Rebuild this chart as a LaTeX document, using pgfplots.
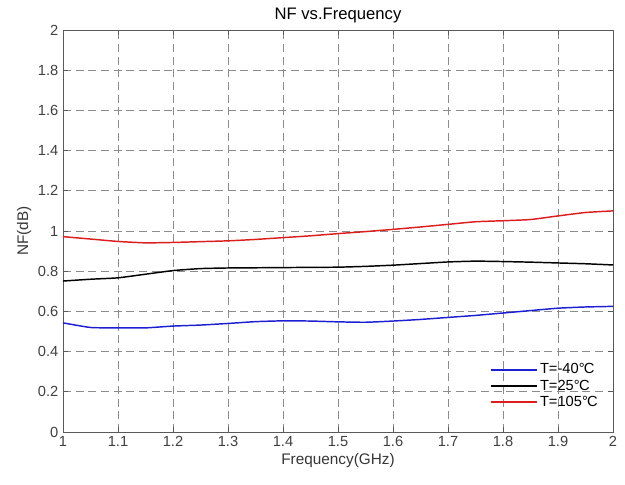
\documentclass[border=0pt]{standalone}
\usepackage{pgfplots}
\pgfplotsset{compat=1.18}
\usepackage{fontspec}
\setmainfont{Liberation Sans}
\definecolor{ax}{RGB}{90,90,90}
\definecolor{gr}{RGB}{140,140,140}
\definecolor{mblue}{RGB}{30,30,210}
\definecolor{mred}{RGB}{220,30,30}
\begin{document}
\begin{tikzpicture}
\begin{axis}[
  scale only axis,
  width=412.5pt, height=301.5pt,
  xmin=1, xmax=2, ymin=0, ymax=2,
  xtick={1,1.1,...,2.01},
  xticklabels={1,1.1,1.2,1.3,1.4,1.5,1.6,1.7,1.8,1.9,2},
  ytick={0,0.2,...,2.01},
  yticklabels={0,0.2,0.4,0.6,0.8,1,1.2,1.4,1.6,1.8,2},
  /pgf/number format/assume math mode=true,
  tick label style={font=\fontsize{11}{12}\selectfont, text=ax!70!black},
  label style={font=\fontsize{11.5}{13}\selectfont, text=ax!60!black},
  title style={font=\fontsize{12.5}{14}\selectfont, text=black, yshift=-4pt},
  title={NF vs.Frequency},
  xlabel={Frequency(GHz)},
  ylabel={NF(dB)},
  xlabel style={yshift=2pt},
  ylabel style={yshift=-2pt},
  axis line style={ax, line width=0.6pt},
  tick style={ax, line width=0.5pt},
  tick align=inside,
  major tick length=4pt,
  grid=major,
  major grid style={gr, dash pattern=on 6pt off 3.5pt, line width=0.5pt},
  legend style={draw=none, fill=none, at={(0.985,0.045)}, anchor=south east,
    font=\fontsize{11}{12}\selectfont, row sep=-1pt},
  legend cell align=left,
  clip=false,
]
\addlegendimage{mblue, line width=1.2pt, legend image code/.code={\draw[mblue, line width=1.2pt] (0pt,0pt) -- (34pt,0pt);}}
\addlegendentry{T=-40°\kern-0.5ptC}
\addlegendimage{black, line width=1.2pt, legend image code/.code={\draw[black, line width=1.2pt] (0pt,0pt) -- (34pt,0pt);}}
\addlegendentry{T=25°\kern-0.5ptC}
\addlegendimage{mred, line width=1.2pt, legend image code/.code={\draw[mred, line width=1.2pt] (0pt,0pt) -- (34pt,0pt);}}
\addlegendentry{T=105°\kern-0.5ptC}
\addplot[mblue, line width=1.1pt, smooth, tension=0.3, forget plot] coordinates {
(1.00,0.543) (1.05,0.520) (1.10,0.518) (1.15,0.518) (1.20,0.527) (1.25,0.532)
(1.30,0.540) (1.35,0.549) (1.40,0.553) (1.45,0.552) (1.50,0.548) (1.55,0.546)
(1.60,0.552) (1.65,0.560) (1.70,0.570) (1.75,0.580) (1.80,0.592) (1.85,0.604)
(1.90,0.616) (1.95,0.622) (2.00,0.625)};
\addplot[black, line width=1.1pt, smooth, tension=0.3, forget plot] coordinates {
(1.00,0.751) (1.05,0.760) (1.10,0.767) (1.15,0.785) (1.20,0.803) (1.25,0.813)
(1.30,0.816) (1.35,0.817) (1.40,0.818) (1.45,0.819) (1.50,0.820) (1.55,0.824)
(1.60,0.830) (1.65,0.838) (1.70,0.846) (1.75,0.850) (1.80,0.848) (1.85,0.845)
(1.90,0.841) (1.95,0.837) (2.00,0.831)};
\addplot[mred, line width=1.1pt, smooth, tension=0.3, forget plot] coordinates {
(1.00,0.972) (1.05,0.960) (1.10,0.948) (1.15,0.941) (1.20,0.943) (1.25,0.947)
(1.30,0.951) (1.35,0.958) (1.40,0.967) (1.45,0.976) (1.50,0.987) (1.55,0.997)
(1.60,1.008) (1.65,1.020) (1.70,1.033) (1.75,1.046) (1.80,1.051) (1.85,1.057)
(1.90,1.075) (1.95,1.092) (2.00,1.100)};
\path (rel axis cs:-0.1145,-0.1318) rectangle (rel axis cs:1.0218,1.0746);
\end{axis}
\end{tikzpicture}
\end{document}
